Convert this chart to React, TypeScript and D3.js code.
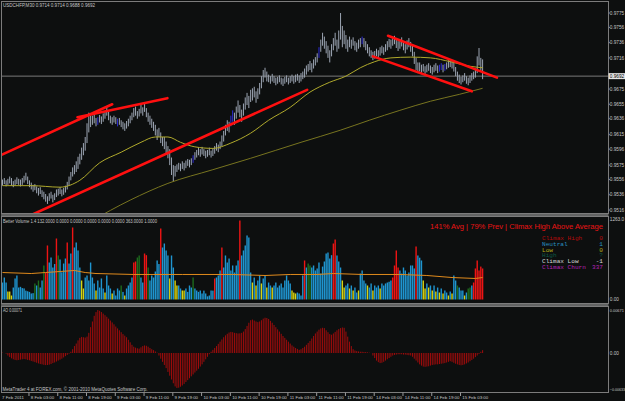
import React, { useEffect, useRef } from 'react';
import * as d3 from 'd3';

// USDCHF M30 bars, prices in pips (price * 10000)
const lows = [
  9548, 9550, 9547, 9549, 9551, 9548, 9546, 9548, 9550, 9549, 9547, 9549, 9552, 9555, 9550, 9546,
  9543, 9540, 9542, 9538, 9535, 9537, 9533, 9530, 9527, 9524, 9528, 9531, 9526, 9529, 9533, 9535,
  9537, 9534, 9536, 9539, 9543, 9548, 9555, 9560, 9563, 9566, 9570, 9576, 9582, 9588, 9594, 9604,
  9618, 9625, 9628, 9630, 9626, 9628, 9631, 9629, 9632, 9636, 9640, 9634, 9630, 9628, 9631, 9629,
  9626, 9628, 9625, 9622, 9620, 9623, 9626, 9630, 9634, 9638, 9640, 9636, 9639, 9643, 9640, 9645,
  9638, 9632, 9628, 9624, 9620, 9614, 9608, 9612, 9604, 9600, 9596, 9590, 9584, 9575, 9562, 9553,
  9560, 9566, 9569, 9567, 9570, 9568, 9571, 9574, 9572, 9575, 9578, 9582, 9585, 9588, 9586, 9589,
  9587, 9584, 9586, 9588, 9585, 9587, 9590, 9594, 9592, 9596, 9600, 9606, 9614, 9620, 9618, 9626,
  9632, 9628, 9636, 9644, 9638, 9632, 9640, 9648, 9654, 9650, 9658, 9660, 9664, 9657, 9662, 9668,
  9676, 9684, 9690, 9685, 9684, 9682, 9685, 9683, 9680, 9682, 9684, 9681, 9679, 9682, 9684, 9681,
  9683, 9685, 9682, 9684, 9686, 9683, 9685, 9688, 9690, 9694, 9698, 9700, 9697, 9702, 9706, 9710,
  9716, 9724, 9732, 9728, 9722, 9716, 9710, 9718, 9726, 9732, 9724, 9728, 9740, 9730, 9734, 9728,
  9724, 9730, 9728, 9732, 9726, 9724, 9728, 9730, 9734, 9730, 9726, 9722, 9718, 9716, 9713, 9715,
  9718, 9716, 9719, 9722, 9720, 9724, 9726, 9730, 9728, 9732, 9734, 9729, 9725, 9728, 9731, 9726,
  9722, 9727, 9730, 9724, 9718, 9708, 9700, 9696, 9698, 9696, 9698, 9695, 9697, 9699, 9696, 9694,
  9697, 9699, 9696, 9698, 9700, 9697, 9699, 9701, 9703, 9704, 9702, 9698, 9692, 9686, 9683, 9681,
  9684, 9686, 9682, 9680, 9683, 9686, 9688, 9690, 9696, 9706, 9698, 9688,
];

const highs = [
  9556, 9558, 9555, 9557, 9560, 9558, 9554, 9556, 9559, 9557, 9556, 9558, 9561, 9565, 9560, 9555,
  9552, 9549, 9550, 9547, 9545, 9546, 9542, 9540, 9537, 9534, 9538, 9540, 9536, 9538, 9543, 9544,
  9546, 9543, 9545, 9548, 9553, 9560, 9566, 9572, 9575, 9580, 9586, 9590, 9598, 9604, 9612, 9630,
  9644, 9640, 9640, 9642, 9637, 9638, 9641, 9639, 9643, 9646, 9651, 9645, 9640, 9638, 9640, 9638,
  9636, 9637, 9634, 9632, 9630, 9633, 9636, 9640, 9644, 9650, 9652, 9646, 9649, 9655, 9651, 9658,
  9650, 9644, 9640, 9636, 9632, 9628, 9622, 9624, 9618, 9612, 9612, 9606, 9600, 9596, 9585, 9575,
  9574, 9576, 9578, 9577, 9580, 9578, 9581, 9583, 9582, 9584, 9588, 9592, 9595, 9598, 9596, 9599,
  9596, 9594, 9595, 9598, 9594, 9597, 9600, 9604, 9602, 9606, 9614, 9620, 9628, 9634, 9632, 9640,
  9647, 9644, 9652, 9660, 9654, 9648, 9656, 9664, 9670, 9666, 9674, 9676, 9678, 9672, 9676, 9683,
  9692, 9700, 9703, 9698, 9694, 9692, 9695, 9692, 9690, 9691, 9693, 9690, 9689, 9691, 9693, 9690,
  9692, 9694, 9692, 9694, 9695, 9693, 9696, 9698, 9702, 9706, 9708, 9712, 9709, 9714, 9717, 9722,
  9730, 9740, 9749, 9744, 9738, 9732, 9726, 9734, 9742, 9749, 9740, 9752, 9775, 9758, 9752, 9746,
  9740, 9744, 9740, 9743, 9738, 9736, 9740, 9742, 9744, 9742, 9738, 9734, 9730, 9726, 9724, 9725,
  9728, 9726, 9730, 9732, 9730, 9734, 9738, 9741, 9740, 9744, 9745, 9742, 9738, 9740, 9743, 9738,
  9734, 9739, 9742, 9737, 9732, 9724, 9716, 9710, 9710, 9707, 9708, 9705, 9707, 9709, 9706, 9704,
  9707, 9709, 9706, 9707, 9709, 9707, 9708, 9710, 9713, 9714, 9713, 9710, 9704, 9698, 9694, 9691,
  9693, 9696, 9692, 9690, 9693, 9696, 9698, 9702, 9718, 9729, 9716, 9714,
];

// bars painted blue on the chart
const blueBars = [53, 64, 106, 127, 128, 176, 200, 243, 244, 246];

// moving averages as [bar index, pips]
const maFast = [
  [0, 9548], [16, 9548], [32, 9546], [43, 9555], [54, 9578], [66, 9592], [77, 9605], [85, 9612],
  [92, 9612], [99, 9605], [107, 9599], [117, 9597], [127, 9604], [138, 9617], [148, 9634],
  [160, 9651], [171, 9671], [182, 9684], [191, 9692], [199, 9703], [207, 9711], [216, 9716],
  [227, 9717], [238, 9716], [249, 9711], [260, 9705], [267, 9703],
];
const maSlow = [
  [49, 9501], [71, 9529], [92, 9551], [117, 9569], [138, 9584], [166, 9605], [188, 9621],
  [204, 9634], [221, 9647], [238, 9659], [254, 9668], [267, 9676],
];

// trend lines: [bar1, pips1, bar2, pips2]
const trendLines = [
  [-1, 9588, 61, 9655],
  [41.7, 9638, 91.7, 9663],
  [15.6, 9509, 169.4, 9674],
  [214.4, 9745, 275, 9690],
  [206, 9718, 261, 9672],
];

const priceTicks = [0.9775, 0.9756, 0.9736, 0.9716, 0.9675, 0.9655, 0.9636, 0.9615, 0.9596, 0.9575, 0.9556, 0.9536, 0.9516];
const currentPrice = 9692;

// Better Volume
const volumes = [
  268, 347, 268, 126, 126, 63, 189, 332, 379, 189, 200, 180, 175, 140, 130, 120,
  95, 100, 253, 221, 300, 189, 300, 537, 426, 853, 584, 663, 505, 560, 963, 695,
  632, 430, 568, 647, 900, 568, 726, 1137, 821, 900, 774, 505, 300, 174, 347, 379,
  300, 584, 347, 253, 142, 300, 189, 332, 174, 110, 379, 221, 174, 95, 142, 63,
  174, 142, 221, 120, 63, 174, 221, 268, 347, 584, 600, 663, 695, 347, 268, 726,
  700, 505, 300, 379, 347, 442, 616, 560, 1121, 821, 884, 774, 695, 332, 695, 505,
  300, 221, 221, 174, 142, 142, 174, 120, 221, 189, 347, 174, 142, 120, 142, 95,
  140, 95, 50, 63, 142, 140, 332, 347, 379, 458, 821, 505, 695, 584, 647, 458,
  537, 426, 537, 616, 1247, 695, 774, 853, 1011, 979, 426, 268, 347, 221, 300, 379,
  253, 332, 379, 189, 268, 221, 189, 221, 268, 189, 221, 253, 189, 300, 379, 300,
  253, 142, 110, 95, 110, 95, 63, 379, 616, 505, 568, 537, 505, 537, 458, 490,
  584, 410, 520, 600, 726, 742, 647, 700, 884, 947, 695, 600, 505, 300, 189, 221,
  253, 174, 221, 142, 189, 110, 142, 410, 458, 300, 253, 221, 189, 253, 142, 221,
  189, 221, 174, 253, 221, 253, 268, 280, 300, 347, 537, 774, 505, 458, 410, 505,
  458, 379, 426, 537, 537, 490, 837, 695, 660, 616, 300, 174, 253, 189, 221, 142,
  221, 126, 189, 110, 174, 95, 142, 110, 63, 126, 95, 379, 300, 221, 189, 142,
  142, 63, 110, 174, 189, 221, 268, 490, 616, 458, 520, 490,
];
// b neutral, r climax high, y low, g high
const volKinds = (
  'bbbyyybbbbbbbbbb' + 'bbgbgbbgrrbbbbrg' + 'bbbbrbbrbbbbyybb' + 'bbbbybbbbybbbybb' +
  'bbgbybbbbrrggbbr' + 'rgbbbbbbrbbbbybb' + 'yybbyybbbbgbbbbb' + 'bbbbbbrbbbrbbbbb' +
  'bbbbrbbbbbbybybb' + 'ybbybbybbbbbbbbb' + 'byyybbbbrbggbbbb' + 'bbbbbbbbrrbbbyyb' +
  'bybybbybbbbybbyb' + 'bbybbbbbbrrrrbbb' + 'bbbbbbrbbbyybyby' + 'bybybybbybybbgbb' +
  'bybggbrrrrrr'
).split('');
const volAverage = [
  [0, 426], [16, 410], [24, 426], [32, 442], [40, 458], [46, 426], [52, 410], [73, 395],
  [100, 395], [128, 395], [146, 379], [160, 395], [175, 395], [184, 410], [200, 395],
  [221, 395], [236, 379], [250, 347], [263, 332], [267, 347],
];
const volMax = 1263;
const legendRows = [
  ['Climax High', '0', '#b40a0a'],
  ['Neutral', '1', '#2a92c0'],
  ['Low', '0', '#b4ad18'],
  ['High', '?', '#0d5a44'],
  ['Climax Low', '-1', '#d8d8d8'],
  ['Climax Churn', '337', '#b423b4'],
];

// Awesome Oscillator, in 1e-5
const ao = [
  5, 0, -10, -40, -65, -85, -100, -110, -115, -110, -105, -100, -95, -100, -110, -115,
  -125, -135, -145, -155, -165, -175, -180, -188, -192, -190, -185, -175, -160, -150, -135, -120,
  -105, -90, -70, -50, -30, -10, 20, 60, 110, 150, 200, 240, 255, 250, 245, 260,
  320, 410, 500, 590, 650, 682, 670, 650, 625, 600, 575, 545, 515, 485, 455, 420,
  390, 360, 330, 300, 275, 250, 210, 170, 130, 100, 85, 75, 70, 90, 110, 120,
  115, 100, 80, 60, 45, 25, 5, -40, -90, -140, -190, -240, -300, -360, -420, -480,
  -530, -555, -550, -535, -515, -490, -460, -430, -400, -370, -340, -310, -280, -250, -215, -180,
  -140, -100, -60, -20, 20, 50, 80, 110, 145, 180, 215, 250, 280, 305, 325, 335,
  330, 320, 315, 310, 312, 320, 340, 380, 430, 480, 520, 530, 515, 500, 490, 500,
  520, 545, 560, 555, 540, 510, 480, 445, 410, 375, 340, 305, 270, 240, 210, 180,
  150, 120, 100, 80, 65, 50, 60, 80, 100, 130, 160, 190, 230, 270, 310, 340,
  370, 390, 400, 395, 360, 330, 300, 290, 310, 335, 360, 380, 395, 405, 400, 340,
  260, 180, 110, 60, 40, 30, 25, 20, 20, 15, 15, 10, 5, 0, -40, -80,
  -120, -145, -160, -155, -140, -120, -100, -80, -60, -40, -30, -25, -20, -20, -20, -25,
  -25, -30, -35, -40, -60, -90, -120, -150, -180, -200, -215, -220, -215, -210, -200, -190,
  -185, -180, -180, -175, -170, -165, -160, -150, -140, -130, -140, -155, -170, -180, -190, -195,
  -190, -180, -165, -150, -130, -110, -90, -65, -40, -15, 20, 45,
];
const aoMax = 671;
const aoMin = -633;

const timeLabels = [
  '8 Feb 03:00', '8 Feb 11:00', '8 Feb 19:00', '9 Feb 03:00', '9 Feb 11:00', '9 Feb 19:00',
  '10 Feb 03:00', '10 Feb 11:00', '10 Feb 19:00', '11 Feb 03:00', '11 Feb 11:00', '11 Feb 19:00',
  '14 Feb 03:00', '14 Feb 11:00', '14 Feb 19:00', '15 Feb 03:00',
];

const W = 625;
const H = 401;

export default function App() {
  const svgRef = useRef<SVGSVGElement>(null);

  useEffect(() => {
    if (!svgRef.current) return;
    const svg = d3.select(svgRef.current);
    svg.selectAll('*').remove();

    const font = "'Liberation Sans', Arial, sans-serif";
    const mono = "'Liberation Mono', 'Courier New', monospace";
    const axisColor = '#c6c6c6';
    const right = 608.5;
    const panels = [
      { top: 1.5, bottom: 213.5 },
      { top: 216.5, bottom: 303.5 },
      { top: 306.5, bottom: 392.5 },
    ];

    const n = lows.length;
    const x = d3.scaleLinear().domain([0, n - 1]).range([2.5, 482.6]);
    const yPrice = d3.scaleLinear().domain([9516, 9775]).range([210, 13]);
    const yVol = d3.scaleLinear().domain([0, volMax]).range([299.5, 219.5]);
    const yAo = d3.scaleLinear().domain([0, aoMax]).range([353, 310.7]);

    svg.append('rect').attr('width', W).attr('height', H).attr('fill', '#0d0f0f');

    const defs = svg.append('defs');
    panels.forEach((p, k) => {
      defs.append('clipPath').attr('id', `clip-${k}`)
        .append('rect')
        .attr('x', 2).attr('y', p.top + 0.5)
        .attr('width', right - 2.5).attr('height', p.bottom - p.top - 1);
    });

    // panel frames and separators
    panels.forEach(p => {
      svg.append('rect')
        .attr('x', 1.5).attr('y', p.top)
        .attr('width', right - 1.5).attr('height', p.bottom - p.top)
        .attr('fill', 'none').attr('stroke', '#7c7c7c');
    });
    [215, 305].forEach(yy => {
      svg.append('line').attr('x1', 1).attr('x2', right).attr('y1', yy).attr('y2', yy)
        .attr('stroke', '#b8b8b8').attr('stroke-width', 1);
    });

    // ---- main price panel
    const main = svg.append('g').attr('clip-path', 'url(#clip-0)');
    main.append('line')
      .attr('x1', 2).attr('x2', right)
      .attr('y1', yPrice(currentPrice)).attr('y2', yPrice(currentPrice))
      .attr('stroke', '#7a7a7a');

    main.selectAll('.bar')
      .data(d3.range(n))
      .enter().append('line')
      .attr('class', 'bar')
      .attr('x1', i => x(i)).attr('x2', i => x(i))
      .attr('y1', i => yPrice(highs[i])).attr('y2', i => yPrice(lows[i]))
      .attr('stroke', i => (blueBars.includes(i) ? '#2c2cd8' : '#9ca5b3'))
      .attr('stroke-width', 1);

    const maLine = d3.line<number[]>()
      .x(d => x(d[0]))
      .y(d => yPrice(d[1]))
      .curve(d3.curveMonotoneX);

    main.append('path').datum(maSlow)
      .attr('d', maLine).attr('fill', 'none')
      .attr('stroke', '#77741f').attr('stroke-width', 1);
    main.append('path').datum(maFast)
      .attr('d', maLine).attr('fill', 'none')
      .attr('stroke', '#b0aa2c').attr('stroke-width', 1);

    main.selectAll('.trend')
      .data(trendLines)
      .enter().append('line')
      .attr('x1', d => x(d[0])).attr('y1', d => yPrice(d[1]))
      .attr('x2', d => x(d[2])).attr('y2', d => yPrice(d[3]))
      .attr('stroke', '#ff1010').attr('stroke-width', 2.6)
      .attr('stroke-linecap', 'round');

    svg.append('text')
      .attr('x', 3).attr('y', 7)
      .attr('font-family', font).attr('font-size', 5.2)
      .attr('fill', axisColor)
      .attr('textLength', 92).attr('lengthAdjust', 'spacingAndGlyphs')
      .text('USDCHFP,M30  0.9714 0.9714 0.9688 0.9692');

    // right-hand axis label; long ones get a smaller font so they stay on the page
    const axisLabel = (yy: number, label: string, fill = axisColor) => {
      const size = label.length > 7 ? 3.6 : label.length > 6 ? 3.9 : 4.7;
      svg.append('text')
        .attr('x', 609.8).attr('y', yy + size * 0.36)
        .attr('font-family', font).attr('font-size', size)
        .attr('fill', fill)
        .text(label);
    };

    // price axis
    const fmt4 = d3.format('.4f');
    priceTicks.forEach(p => {
      const yy = yPrice(p * 10000);
      svg.append('line').attr('x1', right).attr('x2', right + 1.5).attr('y1', yy).attr('y2', yy)
        .attr('stroke', '#7c7c7c');
      axisLabel(yy, fmt4(p));
    });
    const cy = yPrice(currentPrice);
    svg.append('rect').attr('x', right).attr('y', cy - 3).attr('width', W - right).attr('height', 6)
      .attr('fill', '#e6e6e6');
    axisLabel(cy, fmt4(currentPrice / 10000), '#000');

    // ---- volume panel
    const volColor: Record<string, string> = { b: '#1f95d0', r: '#ee1414', y: '#d6d412', g: '#1d6b1d' };
    const vol = svg.append('g').attr('clip-path', 'url(#clip-1)');
    vol.selectAll('.vbar')
      .data(volumes)
      .enter().append('rect')
      .attr('class', 'vbar')
      .attr('x', (_d, i) => x(i) - 0.7)
      .attr('width', 1.4)
      .attr('y', d => yVol(d))
      .attr('height', d => yVol(0) - yVol(d))
      .attr('fill', (_d, i) => volColor[volKinds[i]]);

    const avgLine = d3.line<number[]>()
      .x(d => x(d[0]))
      .y(d => yVol(d[1]));
    vol.append('path').datum(volAverage)
      .attr('d', avgLine).attr('fill', 'none')
      .attr('stroke', '#e08a1c').attr('stroke-width', 1);

    svg.append('text')
      .attr('x', 3).attr('y', 222.5)
      .attr('font-family', font).attr('font-size', 4.6)
      .attr('fill', axisColor)
      .attr('textLength', 154).attr('lengthAdjust', 'spacingAndGlyphs')
      .text('Better Volume 1.4 132.0000 0.0000 0.0000 0.0000 0.0000 0.0000 363.0000 1.0000');

    svg.append('text')
      .attr('x', 603).attr('y', 228.5)
      .attr('text-anchor', 'end')
      .attr('font-family', font).attr('font-size', 7.4)
      .attr('fill', '#ea1414')
      .attr('textLength', 173).attr('lengthAdjust', 'spacingAndGlyphs')
      .text('141% Avg | 79% Prev | Climax High Above Average');

    legendRows.forEach((row, k) => {
      const yy = 240 + k * 5.8;
      svg.append('text')
        .attr('x', 542).attr('y', yy)
        .attr('font-family', mono).attr('font-size', 6.1)
        .attr('fill', row[2])
        .text(row[0]);
      svg.append('text')
        .attr('x', 603).attr('y', yy)
        .attr('text-anchor', 'end')
        .attr('font-family', mono).attr('font-size', 6.1)
        .attr('fill', row[2])
        .text(row[1]);
    });

    axisLabel(yVol(volMax), d3.format('.1f')(volMax));
    axisLabel(yVol(0), '0.00');

    // ---- AO panel
    const aoG = svg.append('g').attr('clip-path', 'url(#clip-2)');
    aoG.selectAll('.abar')
      .data(ao)
      .enter().append('rect')
      .attr('class', 'abar')
      .attr('x', (_d, i) => x(i) - 0.5)
      .attr('width', 1)
      .attr('y', d => Math.min(yAo(d), yAo(0)))
      .attr('height', d => Math.abs(yAo(d) - yAo(0)))
      .attr('fill', '#9e0c0c');

    svg.append('text')
      .attr('x', 3).attr('y', 312)
      .attr('font-family', font).attr('font-size', 4.8)
      .attr('fill', axisColor)
      .attr('textLength', 19).attr('lengthAdjust', 'spacingAndGlyphs')
      .text('AO 0.00071');

    svg.append('text')
      .attr('x', 2.5).attr('y', 390.5)
      .attr('font-family', font).attr('font-size', 4.6)
      .attr('fill', axisColor)
      .attr('textLength', 145).attr('lengthAdjust', 'spacingAndGlyphs')
      .text('MetaTrader 4 at FOREX.com, \u00a9 2001-2010 MetaQuotes Software Corp.');

    const fmt5 = d3.format('.5f');
    axisLabel(yAo(aoMax), fmt5(aoMax / 1e5));
    axisLabel(yAo(0), '0.00');
    axisLabel(Math.min(yAo(aoMin), 390), fmt5(aoMin / 1e5));

    // ---- time axis
    svg.append('text')
      .attr('x', 2).attr('y', 398.5)
      .attr('font-family', font).attr('font-size', 4.4)
      .attr('fill', axisColor)
      .text('7 Feb 2011');
    timeLabels.forEach((label, k) => {
      const tx = x(15 + k * 16) - 0.5;
      svg.append('line').attr('x1', tx).attr('x2', tx).attr('y1', 392.5).attr('y2', 396)
        .attr('stroke', '#9a9a9a');
      svg.append('text')
        .attr('x', tx + 1.8).attr('y', 398.5)
        .attr('font-family', font).attr('font-size', 4.4)
        .attr('fill', axisColor)
        .text(label);
    });
  }, []);

  return (
    <div style={{ position: 'fixed', left: 0, top: 0, width: W, height: H, background: '#0d0f0f' }}>
      <svg ref={svgRef} width={W} height={H} style={{ display: 'block' }} />
    </div>
  );
}
